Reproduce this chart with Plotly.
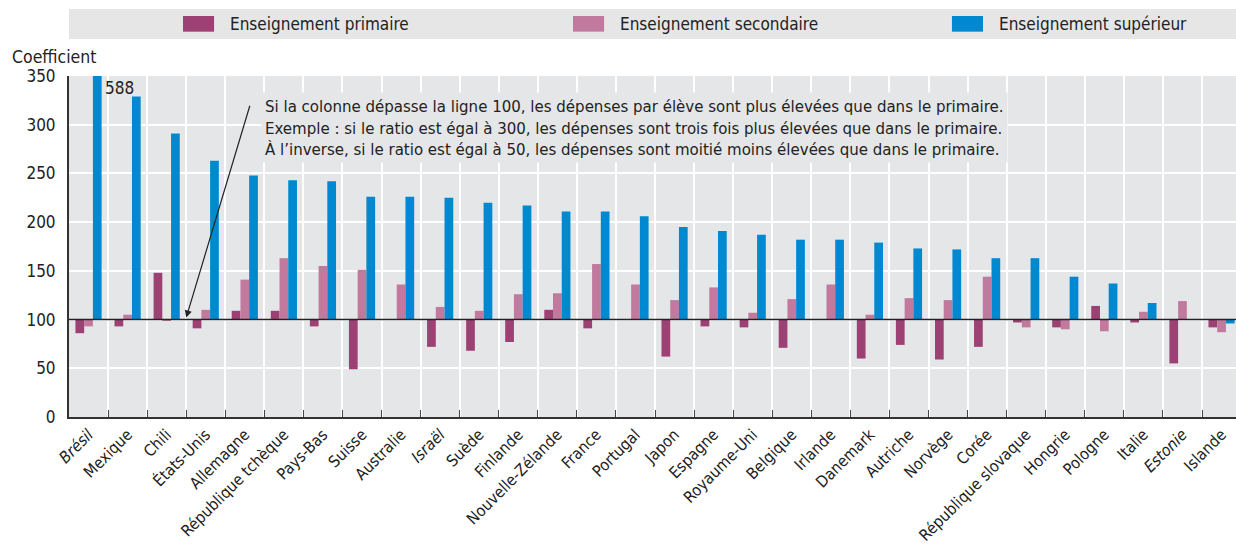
import plotly.graph_objects as go

countries = ["<i>Brésil</i>", "Mexique", "Chili", "États-Unis", "Allemagne", "République tchèque",
             "Pays-Bas", "Suisse", "Australie", "<i>Israël</i>", "Suède", "Finlande",
             "Nouvelle-Zélande", "France", "Portugal", "Japon", "Espagne", "Royaume-Uni",
             "Belgique", "Irlande", "Danemark", "Autriche", "Norvège", "Corée",
             "République slovaque", "Hongrie", "Pologne", "Italie", "<i>Estonie</i>", "Islande"]

primaire = [86, 93, 148, 91, 109, 109, 93, 49, None, 72, 68, 77,
            110, 91, None, 62, 93, 92, 71, None, 60, 74, 59, 72,
            97, 92, 114, 97, 55, 92]
secondaire = [93, 105, 99, 110, 141, 163, 155, 151, 136, 113, 109, 126,
              127, 157, 136, 120, 133, 107, 121, 136, 105, 122, 120, 144,
              92, 90, 88, 108, 119, 87]
superieur = [588, 329, 291, 263, 248, 243, 242, 226, 226, 225, 220, 217,
             211, 211, 206, 195, 191, 187, 182, 182, 179, 173, 172, 163,
             163, 144, 137, 117, None, 96]

names = ["Enseignement primaire", "Enseignement secondaire", "Enseignement supérieur"]
colors = ["#9D4073", "#C17A9E", "#0089D0"]
series = [primaire, secondaire, superieur]

BASE = 100
FONT = "DejaVu Sans Condensed, Liberation Sans Narrow, sans-serif"
FS = 17
PLOT_BG = "#E5E6E8"
TXT = "#222222"

fig = go.Figure()
for name, col, vals in zip(names, colors, series):
    fig.add_trace(go.Bar(
        x=countries,
        y=[(v - BASE) if v is not None else None for v in vals],
        base=BASE,
        name=name,
        marker=dict(color=col, line=dict(width=0)),
        customdata=vals,
        hovertemplate="%{x}: %{customdata}<extra>" + name + "</extra>",
        showlegend=False,
    ))

# reference line at 100
fig.add_shape(type="line", xref="paper", x0=0, x1=1, yref="y", y0=BASE, y1=BASE,
              line=dict(color="#222222", width=1.5), layer="above")

# custom legend
fig.add_shape(type="rect", xref="paper", yref="paper", x0=0, x1=1, y0=1.1085, y1=1.1965,
              fillcolor="#E6E6E7", line=dict(width=0), layer="below")
leg_x = [0.0977, 0.4319, 0.7566]
for lx, name, col in zip(leg_x, names, colors):
    fig.add_shape(type="rect", xref="paper", yref="paper", x0=lx, x1=lx + 0.0266,
                  y0=1.13, y1=1.176, fillcolor=col, line=dict(width=0))
    fig.add_annotation(xref="paper", yref="paper", x=lx + 0.0388, y=1.1525, text=name,
                       showarrow=False, xanchor="left", yanchor="middle",
                       font=dict(family=FONT, size=FS, color=TXT))

# y-axis title
fig.add_annotation(xref="paper", yref="paper", x=-0.0506, y=1.056, text="Coefficient",
                   showarrow=False, xanchor="left", yanchor="middle",
                   font=dict(family=FONT, size=17.5, color=TXT))

# value label for truncated bar
fig.add_annotation(xref="x", yref="y", x=countries[0], y=338, xshift=31,
                   text=str(superieur[0]), showarrow=False,
                   font=dict(family=FONT, size=FS, color=TXT))

# explanatory note
note = ("Si la colonne dépasse la ligne 100, les dépenses par élève sont plus élevées que dans le primaire.<br>"
        "Exemple : si le ratio est égal à 300, les dépenses sont trois fois plus élevées que dans le primaire.<br>"
        "À l’inverse, si le ratio est égal à 50, les dépenses sont moitié moins élevées que dans le primaire.")
fig.add_annotation(xref="paper", yref="y", x=0.1645, y=297, text=note, showarrow=False,
                   xanchor="left", yanchor="middle", align="left",
                   bgcolor=PLOT_BG, borderpad=3,
                   font=dict(family=FONT, size=16.7, color=TXT))

# arrow
fig.add_annotation(xref="x", yref="y", x=2.5, y=102, axref="x", ayref="y", ax=4.14, ay=321,
                   text="", showarrow=True, arrowhead=2, arrowsize=1.2, arrowwidth=1.2,
                   arrowcolor="#222222")

fig.update_layout(
    width=1236, height=547,
    margin=dict(l=69, r=0, t=76, b=130, autoexpand=False),
    paper_bgcolor="white",
    plot_bgcolor=PLOT_BG,
    barmode="group",
    bargap=0.33,
    bargroupgap=0,
    font=dict(family=FONT, size=FS, color=TXT),
    xaxis=dict(
        type="category",
        range=[-0.5, 29.37],
        automargin=False,
        tickson="boundaries",
        ticks="inside",
        ticklen=7,
        tickcolor="#444444",
        tickangle=-45,
        showgrid=True,
        gridcolor="white",
        gridwidth=2,
        showline=True,
        linecolor="#333333",
        linewidth=2,
        tickfont=dict(family=FONT, size=16, color=TXT),
    ),
    yaxis=dict(
        range=[0, 350],
        automargin=False,
        tickvals=[0, 50, 100, 150, 200, 250, 300, 350],
        showgrid=True,
        gridcolor="white",
        gridwidth=2,
        zeroline=False,
        showline=True,
        linecolor="#333333",
        linewidth=2,
        ticks="",
        ticklabelstandoff=8,
        tickfont=dict(family=FONT, size=FS, color=TXT),
    ),
)

fig.write_html(
    "out.html",
    config={"displayModeBar": False},
    post_script="document.body.style.margin='0';document.body.style.overflow='hidden';",
)
